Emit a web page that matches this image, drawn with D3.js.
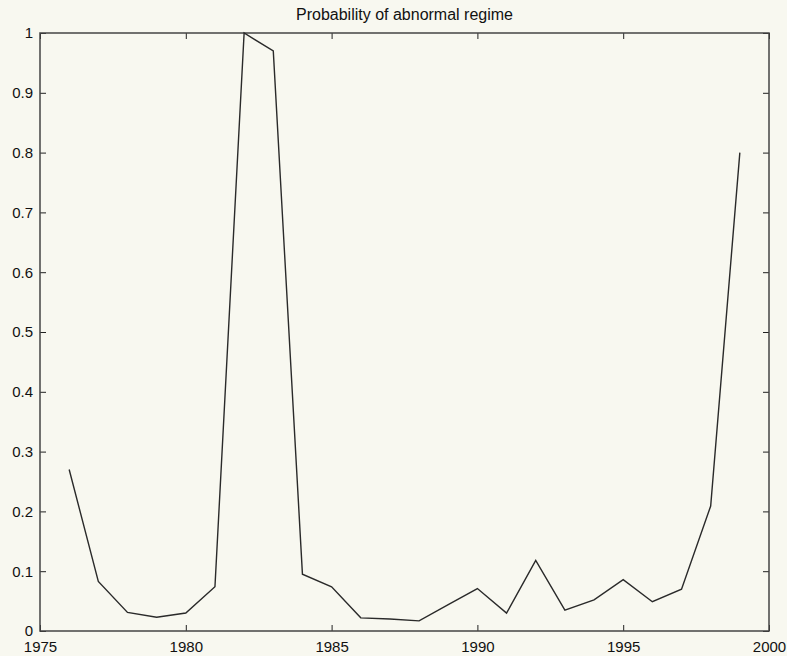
<html>
<head>
    <meta charset="UTF-8">
    <title>Probability of abnormal regime</title>
    <style>
        body { margin: 0; background: #f8f8f0; }
        text { font-family: "Liberation Sans", Arial, sans-serif; fill: #111; }
    </style>
</head>
<body>

<script src="https://d3js.org/d3.v7.min.js"></script>
<div id="my_dataviz"></div>

<script>
    // data
    var years = [1976, 1977, 1978, 1979, 1980, 1981, 1982, 1983, 1984, 1985, 1986, 1987,
                 1988, 1989, 1990, 1991, 1992, 1993, 1994, 1995, 1996, 1997, 1998, 1999];
    var prob = [0.27, 0.083, 0.031, 0.023, 0.030, 0.074, 1.0, 0.97, 0.095, 0.074, 0.022, 0.020,
                0.017, 0.044, 0.071, 0.030, 0.118, 0.035, 0.052, 0.086, 0.049, 0.070, 0.209, 0.80];
    var xTicks = [1975, 1980, 1985, 1990, 1995, 2000];
    var yTicks = [0, 0.1, 0.2, 0.3, 0.4, 0.5, 0.6, 0.7, 0.8, 0.9, 1];
    var title = "Probability of abnormal regime";

    var margin = {top: 33, right: 18, bottom: 25, left: 40},
        outerWidth = 787, outerHeight = 656,
        width = outerWidth - margin.left - margin.right,
        height = outerHeight - margin.top - margin.bottom,
        tick = 6;

    var svg = d3.select("#my_dataviz")
        .append("svg")
        .attr("width", outerWidth)
        .attr("height", outerHeight)
        .append("g")
            .attr("transform", `translate(${margin.left}, ${margin.top})`);

    var x = d3.scaleLinear().domain([1975, 2000]).range([0, width]);
    var y = d3.scaleLinear().domain([0, 1]).range([height, 0]);

    // axes, ticks pointing inwards on all four sides
    function styleAxis(g) {
        g.select(".domain").remove();
        g.selectAll(".tick line").attr("stroke", "#222");
        g.selectAll("text").style("font-size", "15px").attr("fill", "#111");
    }
    svg.append("g")
        .attr("transform", `translate(0, ${height})`)
        .call(d3.axisBottom(x).tickValues(xTicks).tickFormat(d3.format("d"))
            .tickSizeInner(-tick).tickSizeOuter(0).tickPadding(10))
        .call(styleAxis);
    svg.append("g")
        .call(d3.axisTop(x).tickValues(xTicks).tickFormat("")
            .tickSizeInner(-tick).tickSizeOuter(0))
        .call(styleAxis);
    svg.append("g")
        .call(d3.axisLeft(y).tickValues(yTicks).tickFormat(d3.format("~g"))
            .tickSizeInner(-tick).tickSizeOuter(0).tickPadding(7))
        .call(styleAxis);
    svg.append("g")
        .attr("transform", `translate(${width}, 0)`)
        .call(d3.axisRight(y).tickValues(yTicks).tickFormat("")
            .tickSizeInner(-tick).tickSizeOuter(0))
        .call(styleAxis);

    // box
    svg.append("rect")
        .attr("width", width)
        .attr("height", height)
        .attr("fill", "none")
        .attr("stroke", "#444")
        .attr("stroke-width", 1.5);

    // line
    var line = d3.line()
        .x(function(d, i) { return x(years[i]); })
        .y(function(d) { return y(d); });
    svg.append("path")
        .datum(prob)
        .attr("d", line)
        .attr("fill", "none")
        .attr("stroke", "#2a2a2a")
        .attr("stroke-width", 1.4);

    svg.append("text")
        .attr("x", width / 2)
        .attr("y", -13)
        .attr("text-anchor", "middle")
        .style("font-size", "16px")
        .text(title);
</script>

</body>
</html>
